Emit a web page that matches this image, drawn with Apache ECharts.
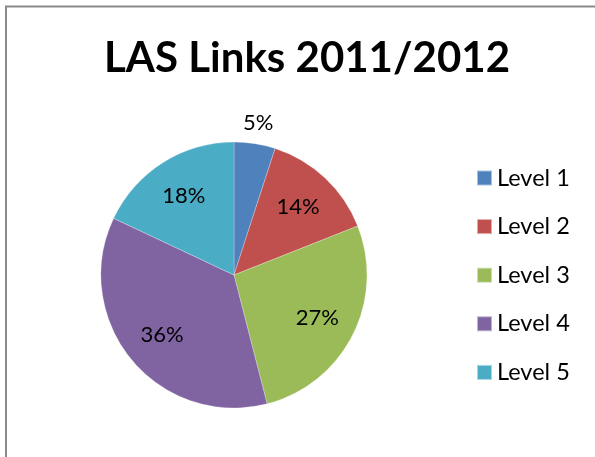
<!DOCTYPE html>
<html><head><meta charset="utf-8">
<script src="https://cdn.jsdelivr.net/npm/echarts@6/dist/echarts.min.js"></script>
<style>html,body{margin:0;padding:0;background:#fff}#c{width:595px;height:457px}</style>
</head><body><div id="c"></div>
<script>
const categories = ['Level 1','Level 2','Level 3','Level 4','Level 5'];
const values = [5, 14, 27, 36, 18];
const colors = ['#4F81BD','#C0504D','#9BBB59','#8064A2','#4BACC6'];
const titleText = 'LAS Links 2011/2012';

const FONT = 'Lato';
const center = [234, 275];
const data = categories.map((n,i)=>({name:n, value:values[i], itemStyle:{color:colors[i]}}));
const labelData = categories.map((n,i)=>({name:n, value:values[i], label:{show:i!==0}}));
const outerData = categories.map((n,i)=>({name:n, value:values[i], label:{show:i===0}}));
const lbl = {position:'inside', formatter:'{d}%', color:'#000', fontFamily:FONT, fontSize:22};
const hidden = {color:'transparent', borderWidth:0};

const chart = echarts.init(document.getElementById('c'), null, {renderer:'canvas'});
chart.setOption({
  animation:false,
  color: colors,
  title:{text:titleText, left:302, textAlign:'center', top:32,
    textStyle:{fontFamily:FONT, fontWeight:'bold', fontSize:42, color:'#000'}},
  legend:{orient:'vertical', left:471, top:161, itemWidth:15, itemHeight:15, itemGap:24.6,
    icon:'rect', data:categories,
    textStyle:{fontFamily:FONT, fontSize:23.5, color:'#000'}},
  graphic:[{type:'rect', shape:{x:6, y:6.5, width:620, height:480},
    style:{fill:'none', stroke:'#8a8a8a', lineWidth:2}, silent:true}],
  series:[
    {type:'pie', center:center, radius:[0,133], startAngle:90, clockwise:true,
     data:data, label:{show:false}, labelLine:{show:false}, silent:true,
     itemStyle:{borderColor:'rgba(255,255,255,0.5)', borderWidth:0.5}},
    {type:'pie', center:center, radius:[0,181], startAngle:90, clockwise:true,
     data:labelData, label:lbl, labelLine:{show:false}, silent:true, itemStyle:hidden,
     emphasis:{disabled:true}, legendHoverLink:false},
    {type:'pie', center:center, radius:[0,302], startAngle:90, clockwise:true,
     data:outerData, label:lbl, labelLine:{show:false}, silent:true, itemStyle:hidden,
     emphasis:{disabled:true}, legendHoverLink:false}
  ]
});
</script></body></html>
